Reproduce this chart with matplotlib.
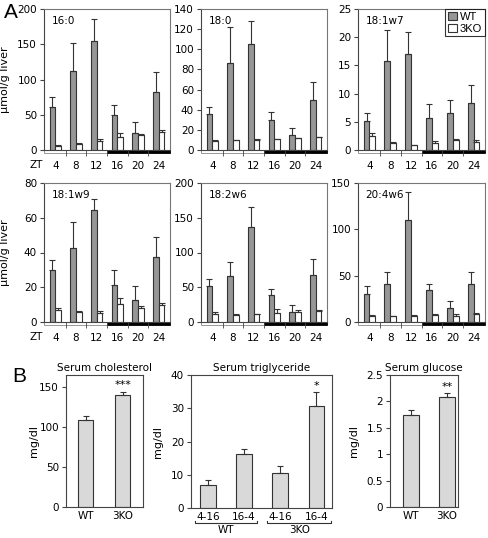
import numpy as np
import matplotlib.pyplot as plt
import matplotlib.transforms as mtransforms
from matplotlib.patches import Rectangle

plt.rcParams['font.family'] = ['Liberation Sans Narrow', 'DejaVu Sans']
plt.rcParams['font.size'] = 7.5
plt.rcParams['axes.edgecolor'] = '#444444'
plt.rcParams['axes.linewidth'] = 0.8
plt.rcParams['xtick.color'] = '#444444'
plt.rcParams['ytick.color'] = '#444444'
plt.rcParams['xtick.labelcolor'] = 'black'
plt.rcParams['ytick.labelcolor'] = 'black'

# ZT time points
zt = ['4', '8', '12', '16', '20', '24']

# fatty acids, umol/g liver (mean and upper error)
fa_names = ['16:0', '18:0', '18:1w7', '18:1w9', '18:2w6', '20:4w6']
wt_160 = [61, 112, 154, 49, 24, 82]
wt_160_err = [14, 40, 32, 15, 16, 29]
ko_160 = [5, 9, 13, 18, 21, 25]
ko_160_err = [2, 1.5, 2, 6, 2, 4]

wt_180 = [36, 86, 105, 30, 15, 50]
wt_180_err = [7, 36, 23, 8, 7, 18]
ko_180 = [9, 9.5, 10, 10.5, 11.5, 12.5]
ko_180_err = [1, 0.8, 1, 0.3, 0.3, 0.3]

wt_181w7 = [5.2, 15.8, 17.0, 5.7, 6.5, 8.3]
wt_181w7_err = [1.3, 5.5, 4.0, 2.5, 2.4, 3.3]
ko_181w7 = [2.5, 1.2, 0.8, 1.3, 1.8, 1.5]
ko_181w7_err = [0.6, 0.3, 0.05, 0.3, 0.2, 0.2]

wt_181w9 = [29.7, 42.8, 64.3, 21.1, 12.9, 37.4]
wt_181w9_err = [6.2, 14.8, 6.5, 8.6, 7.6, 11.6]
ko_181w9 = [7.1, 5.8, 5.2, 10.6, 8.3, 9.8]
ko_181w9_err = [1.2, 0.5, 1.1, 3.4, 0.9, 1.2]

wt_182w6 = [51.6, 66, 137, 38.5, 15, 67]
wt_182w6_err = [10, 20, 28, 9.5, 10, 24]
ko_182w6 = [12, 10.5, 11, 13, 15, 15.4]
ko_182w6_err = [2.5, 1.5, 1, 5, 2.8, 1.6]

wt_204w6 = [30.7, 40.5, 110, 34, 15, 40.5]
wt_204w6_err = [8, 13.5, 30, 7.5, 7.4, 13]
ko_204w6 = [6.5, 6, 6, 7.2, 7, 8.3]
ko_204w6_err = [1.5, 0.9, 1.2, 1.8, 2, 1.7]

fa_wt = [wt_160, wt_180, wt_181w7, wt_181w9, wt_182w6, wt_204w6]
fa_wt_err = [wt_160_err, wt_180_err, wt_181w7_err, wt_181w9_err, wt_182w6_err, wt_204w6_err]
fa_ko = [ko_160, ko_180, ko_181w7, ko_181w9, ko_182w6, ko_204w6]
fa_ko_err = [ko_160_err, ko_180_err, ko_181w7_err, ko_181w9_err, ko_182w6_err, ko_204w6_err]
fa_ymax = [200, 140, 25, 80, 200, 150]
fa_ystep = [50, 20, 5, 20, 50, 50]

# serum
chol_labels = ['WT', '3KO']
chol = [108.6, 139.7]
chol_err = [5.4, 4.3]
tg_labels = ['4-16', '16-4', '4-16', '16-4']
tg = [6.8, 16.2, 10.5, 30.7]
tg_err = [1.7, 1.6, 2.0, 4.1]
glu_labels = ['WT', '3KO']
glu = [1.74, 2.09]
glu_err = [0.09, 0.06]

W, H = 488, 538
fig = plt.figure(figsize=(W / 100, H / 100), dpi=100)

def box(x0, y0, x1, y1):
    return fig.add_axes([x0 / W, 1 - y1 / H, (x1 - x0) / W, (y1 - y0) / H])

positions = [(44, 9, 170, 150), (201, 9, 327, 150), (358, 9, 485, 150),
             (44, 183, 170, 322), (201, 183, 327, 322), (358, 183, 485, 322)]

x = np.arange(len(zt))
bw = 0.28
err_kw = dict(ecolor='#333333', elinewidth=0.8, capsize=2, capthick=0.8)
xl = (-0.55, 5.55)

for i in range(6):
    ax = box(*positions[i])
    wt = np.array(fa_wt[i])
    ko = np.array(fa_ko[i])
    ax.bar(x, wt, width=-bw, align='edge', color='#969696', edgecolor='#333333', lw=0.8,
           yerr=[np.zeros(6), fa_wt_err[i]], error_kw=err_kw, label='WT')
    ax.bar(x, ko, width=bw, align='edge', color='white', edgecolor='#333333', lw=0.8,
           yerr=[np.zeros(6), fa_ko_err[i]], error_kw=err_kw, label='3KO')
    ax.set_xlim(*xl)
    ax.set_ylim(0, fa_ymax[i])
    ax.set_yticks(np.arange(0, fa_ymax[i] + 1e-9, fa_ystep[i]))
    ax.set_xticks(x)
    ax.set_xticklabels(zt)
    ax.set_xticks(x[:-1] + 0.5, minor=True)
    ax.tick_params(axis='x', which='major', length=0, pad=8)
    ax.tick_params(axis='x', which='minor', length=4, direction='out')
    ax.tick_params(axis='y', length=3, pad=2)
    ax.spines['top'].set_color('#777777')
    ax.spines['right'].set_color('#777777')
    ax.text(0.06, 0.95, fa_names[i], transform=ax.transAxes, ha='left', va='top', fontsize=7.5)
    # light / dark bar
    trans = mtransforms.blended_transform_factory(ax.transData, ax.transAxes)
    ax.add_patch(Rectangle((xl[0], -0.024), 2.5 - xl[0], 0.024, transform=trans,
                           facecolor='white', edgecolor='#888888', lw=0.6, clip_on=False))
    ax.add_patch(Rectangle((2.5, -0.024), xl[1] - 2.5, 0.024, transform=trans,
                           facecolor='black', edgecolor='black', lw=0.6, clip_on=False))
    if i % 3 == 0:
        ax.set_ylabel('μmol/g liver', fontsize=8)
        ax.yaxis.set_label_coords(-0.27, 0.5)
        ax.text(-0.93, -0.105, 'ZT', transform=trans, ha='center', va='center', fontsize=7.5)
    if i == 2:
        leg = ax.legend(loc='upper right', frameon=True, fancybox=False, fontsize=8,
                        handlelength=0.8, handleheight=0.8, handletextpad=0.3,
                        borderpad=0.25, labelspacing=0.15, borderaxespad=0,
                        prop={'family': 'Liberation Sans', 'size': 8})
        leg.get_frame().set_edgecolor('black')
        leg.get_frame().set_linewidth(0.8)

fig.text(11 / W, 1 - 12 / H, 'A', fontsize=15, ha='center', va='center',
         family=['Liberation Sans', 'DejaVu Sans'])
fig.text(19 / W, 1 - 377 / H, 'B', fontsize=15, ha='center', va='center',
         family=['Liberation Sans', 'DejaVu Sans'])

bar_kw = dict(color='#d9d9d9', edgecolor='#333333', lw=0.8)

def star(ax, xpos, top, s):
    ax.annotate(s, (xpos, top), xytext=(0, 1), textcoords='offset points',
                ha='center', va='bottom', fontsize=8)

# cholesterol
ax = box(66, 375, 143, 507)
xb = np.arange(2)
ax.bar(xb, chol, width=0.4, yerr=[np.zeros(2), chol_err], error_kw=err_kw, **bar_kw)
ax.set_xlim(-0.53, 1.55)
ax.set_ylim(0, 165)
ax.set_yticks([0, 50, 100, 150])
ax.set_xticks(xb)
ax.set_xticklabels(chol_labels)
ax.tick_params(axis='x', length=0, pad=3)
ax.tick_params(axis='y', length=3, pad=2)
ax.set_title('Serum cholesterol', fontsize=7.5, pad=3)
ax.set_ylabel('mg/dl', fontsize=8)
ax.yaxis.set_label_coords(-0.35, 0.5)
star(ax, 1, chol[1] + chol_err[1], '***')

# triglyceride
ax = box(191, 375, 332, 508)
xb = np.arange(4)
ax.bar(xb, tg, width=0.42, yerr=[np.zeros(4), tg_err], error_kw=err_kw, **bar_kw)
ax.set_xlim(-0.47, 3.44)
ax.set_ylim(0, 40)
ax.set_yticks([0, 10, 20, 30, 40])
ax.set_xticks(xb)
ax.set_xticklabels(tg_labels)
ax.tick_params(axis='x', length=0, pad=3)
ax.tick_params(axis='y', length=3, pad=2)
ax.set_title('Serum triglyceride', fontsize=7.5, pad=3)
ax.set_ylabel('mg/dl', fontsize=8)
ax.yaxis.set_label_coords(-0.2, 0.5)
star(ax, 3, tg[3] + tg_err[3], '*')
trans = mtransforms.blended_transform_factory(ax.transData, ax.transAxes)
for (a, b), lab in zip([(-0.36, 1.36), (1.64, 3.42)], ['WT', '3KO']):
    ax.plot([a, a, b, b], [-0.095, -0.115, -0.115, -0.095], color='#333333', lw=0.8,
            transform=trans, clip_on=False)
    ax.text((a + b) / 2, -0.125, lab, transform=trans, ha='center', va='top', fontsize=7.5)

# glucose
ax = box(390, 375, 458, 507)
xb = np.arange(2)
ax.bar(xb, glu, width=0.44, yerr=[np.zeros(2), glu_err], error_kw=err_kw, **bar_kw)
ax.set_xlim(-0.58, 1.31)
ax.set_ylim(0, 2.5)
ax.set_yticks([0, 0.5, 1, 1.5, 2, 2.5])
ax.set_yticklabels(['0', '0.5', '1', '1.5', '2', '2.5'])
ax.set_xticks(xb)
ax.set_xticklabels(glu_labels)
ax.tick_params(axis='x', length=0, pad=3)
ax.tick_params(axis='y', length=3, pad=2)
ax.set_title('Serum glucose', fontsize=7.5, pad=3)
ax.set_ylabel('mg/dl', fontsize=8)
ax.yaxis.set_label_coords(-0.45, 0.5)
star(ax, 1, glu[1] + glu_err[1], '**')

fig.savefig('out.png', dpi=100)
